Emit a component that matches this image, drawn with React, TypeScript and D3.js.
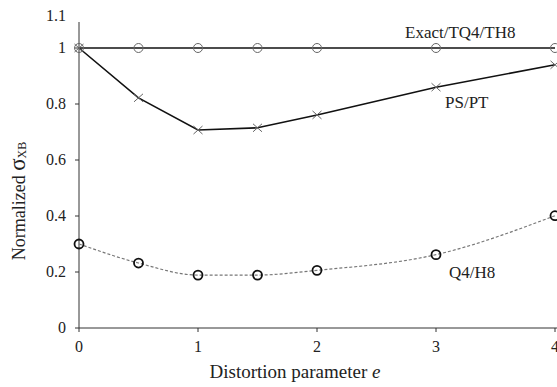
import React from "react";
import * as d3 from "d3";

const xExact = [0, 0.5, 1, 1.5, 2, 3, 4];
const yExact = [1, 1, 1, 1, 1, 1, 1];
const xPS = [0, 0.5, 1, 1.5, 2, 3, 4];
const yPS = [1, 0.822, 0.707, 0.715, 0.761, 0.86, 0.94];
const xQ4 = [0, 0.5, 1, 1.5, 2, 3, 4];
const yQ4 = [0.3, 0.232, 0.189, 0.189, 0.206, 0.262, 0.401];
const yTicks = [0, 0.2, 0.4, 0.6, 0.8, 1, 1.1];
const yTickLabels = ["0", "0.2", "0.4", "0.6", "0.8", "1", "1.1"];
const xTicks = [0, 1, 2, 3, 4];
const xTickLabels = ["0", "1", "2", "3", "4"];

const W = 557;
const H = 387;
const TS = { fontFamily: '"Liberation Serif"' };

export default function App() {
  const x = d3.scaleLinear().domain([0, 4]).range([79, 555]);
  const y = d3.scaleLinear().domain([0, 1]).range([328, 48]);
  const pts = (xs: number[], ys: number[]) => xs.map((v, i) => [x(v), y(ys[i])] as [number, number]);
  const lin = d3.line().curve(d3.curveLinear);
  const smooth = d3.line().curve(d3.curveMonotoneX);
  const pE = pts(xExact, yExact);
  const pP = pts(xPS, yPS);
  const pQ = pts(xQ4, yQ4);
  const yMax = yTicks[yTicks.length - 1];
  return (
    <svg width={W} height={H} style={{ position: "absolute", left: 0, top: 0, background: "#fff" }}>
      <rect width={W} height={H} fill="#fff" />
      {/* axes */}
      <line x1={x(0)} x2={x(0)} y1={y(yMax) + 2} y2={y(0)} stroke="#333" strokeWidth={1} />
      <line x1={x(0)} x2={W} y1={y(0)} y2={y(0)} stroke="#333" strokeWidth={1} />
      {yTicks.map((t, i) => (
        <g key={"yt" + i}>
          {t !== yMax && <line x1={x(0) - 4} x2={x(0)} y1={y(t)} y2={y(t)} stroke="#333" />}
          <text x={66} y={y(t) + (t === yMax ? 1 : 5)} textAnchor="end" fontSize={16} fill="#222" style={TS}>{yTickLabels[i]}</text>
        </g>
      ))}
      {xTicks.map((t, i) => (
        <g key={"xt" + i}>
          <line x1={x(t)} x2={x(t)} y1={y(0)} y2={y(0) + 4} stroke="#333" />
          <text x={x(t)} y={352} textAnchor="middle" fontSize={16} fill="#222" style={TS}>{xTickLabels[i]}</text>
        </g>
      ))}
      {/* series */}
      <path d={lin(pE) || ""} fill="none" stroke="#111" strokeWidth={1.6} />
      <path d={lin(pP) || ""} fill="none" stroke="#111" strokeWidth={1.6} />
      <path d={smooth(pQ) || ""} fill="none" stroke="#777" strokeWidth={1.2} strokeDasharray="3,2" />
      {pE.map((p, i) => (
        <circle key={"e" + i} cx={p[0]} cy={p[1]} r={4.5} fill="none" stroke="#666" strokeWidth={1} />
      ))}
      {pP.map((p, i) => (
        <path key={"p" + i} d={`M${p[0] - 4.5},${p[1] - 4}L${p[0] + 4.5},${p[1] + 4}M${p[0] - 4.5},${p[1] + 4}L${p[0] + 4.5},${p[1] - 4}`} stroke="#666" strokeWidth={1} />
      ))}
      {pQ.map((p, i) => (
        <circle key={"q" + i} cx={p[0]} cy={p[1]} r={4.5} fill="none" stroke="#111" strokeWidth={1.8} />
      ))}
      {/* labels */}
      <text x={405} y={38} fontSize={17} fill="#222" style={TS}>Exact/TQ4/TH8</text>
      <text x={445} y={108} fontSize={17} fill="#222" style={TS}>PS/PT</text>
      <text x={449} y={278} fontSize={17} fill="#222" style={TS}>Q4/H8</text>
      <text x={295} y={378} textAnchor="middle" fontSize={19} fill="#222" style={TS}>
        Distortion parameter <tspan fontStyle="italic">e</tspan>
      </text>
      <text transform={`translate(25,${201}) rotate(-90)`} textAnchor="middle" fontSize={18} fill="#222" style={TS}>
        Normalized <tspan fontSize={23}>σ</tspan><tspan fontSize={12} dy={1}>XB</tspan>
      </text>
    </svg>
  );
}
